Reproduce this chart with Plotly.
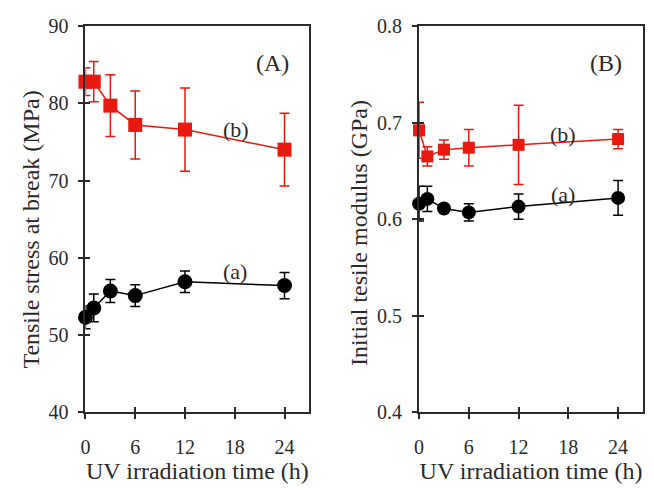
import plotly.graph_objects as go

# UV irradiation time (h)
time_h = [0, 1, 3, 6, 12, 24]

# Panel A: Tensile stress at break (MPa)
stress_a = [52.3, 53.5, 55.7, 55.1, 56.9, 56.4]
stress_a_err = [1.5, 1.8, 1.5, 1.4, 1.4, 1.7]
stress_b = [82.8, 82.8, 79.7, 77.2, 76.6, 74.0]
stress_b_err = [1.8, 2.6, 4.0, 4.4, 5.4, 4.7]

# Panel B: Initial tesile modulus (GPa)
mod_a = [0.616, 0.621, 0.611, 0.607, 0.613, 0.622]
mod_a_err = [0.018, 0.013, 0.004, 0.009, 0.013, 0.018]
mod_b = [0.692, 0.665, 0.672, 0.674, 0.677, 0.683]
mod_b_err = [0.029, 0.010, 0.010, 0.019, 0.041, 0.010]

x_ticks = [0, 6, 12, 18, 24]
ya_ticks = [40, 50, 60, 70, 80, 90]
yb_ticks = [0.4, 0.5, 0.6, 0.7, 0.8]

FONT = "Liberation Serif"
INK = "#2a2a2a"
RED = "#e8190f"

fig = go.Figure()

def add_series(x, y, err, color, symbol, xa, ya, size):
    fig.add_trace(go.Scatter(
        x=x, y=y, xaxis=xa, yaxis=ya, mode="lines+markers",
        line=dict(color=color, width=1.5),
        marker=dict(color=color, symbol=symbol, size=size),
        error_y=dict(type="data", array=err, visible=True, color=color,
                     thickness=1.5, width=5),
        cliponaxis=False,
        showlegend=False,
    ))

add_series(time_h, stress_b, stress_b_err, RED, "square", "x", "y", 14)
add_series(time_h, stress_a, stress_a_err, "black", "circle", "x", "y", 15)
add_series(time_h, mod_b, mod_b_err, RED, "square", "x2", "y2", 12)
add_series(time_h, mod_a, mod_a_err, "black", "circle", "x2", "y2", 14)

dom_a = [0.124, 0.469]
dom_b = [0.638, 0.983]
dom_y = [0.150, 0.968]

tickfont = dict(family=FONT, size=20, color=INK)
titlefont = dict(family=FONT, size=24, color=INK)

common_x = dict(range=[0, 27], tickvals=x_ticks, ticks="outside", ticklen=5,
                tickwidth=2, tickcolor=INK, showline=True, linewidth=2,
                linecolor=INK, mirror=True, showgrid=False, zeroline=False,
                tickfont=tickfont, ticklabelstandoff=11,
                title_font=titlefont, title_standoff=1)
common_y = dict(ticks="outside", ticklen=5, tickwidth=2, tickcolor=INK,
                showline=True, linewidth=2, linecolor=INK, mirror=True,
                showgrid=False, zeroline=False, tickfont=tickfont,
                ticklabelstandoff=6)

overlay = dict(ticks="inside", ticklen=5, tickwidth=2, tickcolor=INK,
               showticklabels=False, showline=False, showgrid=False, zeroline=False)

fig.update_layout(
    width=654, height=494,
    margin=dict(l=0, r=0, t=0, b=0),
    paper_bgcolor="white", plot_bgcolor="white",
    xaxis=dict(domain=dom_a, anchor="y", title_text="UV irradiation time (h)", **common_x),
    yaxis=dict(domain=dom_y, anchor="x", range=[40, 90], tickvals=ya_ticks, **common_y),
    xaxis2=dict(domain=dom_b, anchor="y2", title_text="UV irradiation time (h)", **common_x),
    yaxis2=dict(domain=dom_y, anchor="x2", range=[0.4, 0.8], tickvals=yb_ticks,
                tickformat=".1f", **common_y),
    # overlay axes providing the inner half of the crossing ticks
    xaxis3=dict(domain=dom_a, anchor="y", overlaying="x", range=[0, 27], tickvals=x_ticks, **overlay),
    yaxis3=dict(domain=dom_y, anchor="x", overlaying="y", range=[40, 90], tickvals=ya_ticks, **overlay),
    xaxis4=dict(domain=dom_b, anchor="y2", overlaying="x2", range=[0, 27], tickvals=x_ticks, **overlay),
    yaxis4=dict(domain=dom_y, anchor="x2", overlaying="y2", range=[0.4, 0.8], tickvals=yb_ticks, **overlay),
)

# invisible traces so the overlay axes render
fig.add_trace(go.Scatter(x=[None], y=[None], xaxis="x3", yaxis="y3", showlegend=False, hoverinfo="skip"))
fig.add_trace(go.Scatter(x=[None], y=[None], xaxis="x4", yaxis="y4", showlegend=False, hoverinfo="skip"))

# y-axis titles (placed slightly below centre, as in the reference)
fig.add_annotation(x=26 / 654, y=1 - 229 / 494, xref="paper", yref="paper",
                   text="Tensile stress at break (MPa)", textangle=-90,
                   showarrow=False, font=titlefont, xanchor="center", yanchor="middle")
fig.add_annotation(x=356 / 654, y=1 - 232 / 494, xref="paper", yref="paper",
                   text="Initial tesile modulus (GPa)", textangle=-90,
                   showarrow=False, font=titlefont, xanchor="center", yanchor="middle")

ann_font = dict(family=FONT, size=24, color=INK)
lab_font = dict(family=FONT, size=22, color=INK)
fig.add_annotation(x=22.6, y=85.2, xref="x", yref="y", text="(A)", showarrow=False, font=ann_font)
fig.add_annotation(x=18.1, y=76.6, xref="x", yref="y", text="(b)", showarrow=False, font=lab_font)
fig.add_annotation(x=18.0, y=58.2, xref="x", yref="y", text="(a)", showarrow=False, font=lab_font)
fig.add_annotation(x=22.5, y=0.762, xref="x2", yref="y2", text="(B)", showarrow=False, font=ann_font)
fig.add_annotation(x=17.3, y=0.688, xref="x2", yref="y2", text="(b)", showarrow=False, font=lab_font)
fig.add_annotation(x=17.3, y=0.626, xref="x2", yref="y2", text="(a)", showarrow=False, font=lab_font)

fig.write_html("out.html")
